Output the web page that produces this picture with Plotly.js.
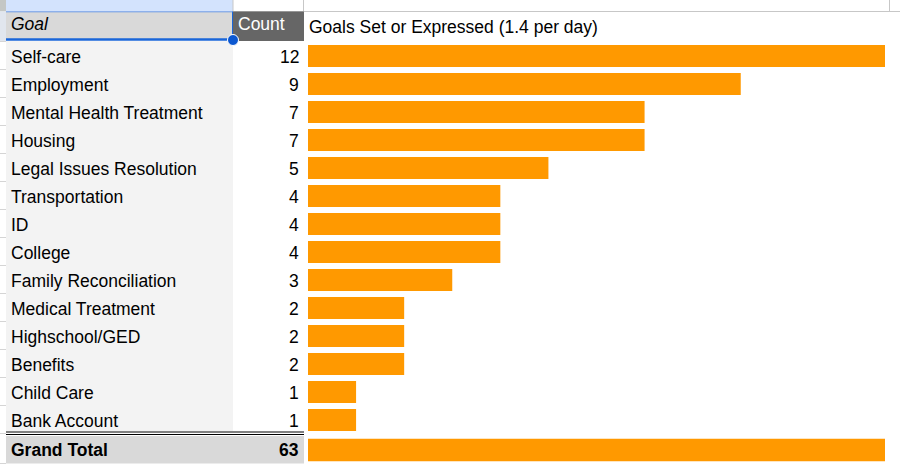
<!DOCTYPE html>
<html>
<head>
<meta charset="utf-8">
<script src="https://cdn.plot.ly/plotly-3.0.1.min.js"></script>
<style>html,body{margin:0;padding:0;background:#fff;}#chart{width:900px;height:467px;}</style>
</head>
<body>
<div id="chart"></div>
<script>
const goals = ["Self-care","Employment","Mental Health Treatment","Housing","Legal Issues Resolution","Transportation","ID","College","Family Reconciliation","Medical Treatment","Highschool/GED","Benefits","Child Care","Bank Account"];
const counts = [12,9,7,7,5,4,4,4,3,2,2,2,1,1];
const totalLabel = "Grand Total";
const totalValue = 63;
const headerGoal = "Goal";
const headerCount = "Count";
const chartTitle = "Goals Set or Expressed (1.4 per day)";

const W = 900, H = 467;
const px = v => v / W;
const py = v => 1 - v / H;
const FONT = "Liberation Sans, Arial, sans-serif";
const FS = 17.5;
const totalPos = counts.length + 0.07;

function rect(x0, y0, x1, y1, fill, line) {
  return {type:"rect", xref:"paper", yref:"paper", x0:px(x0), x1:px(x1), y0:py(y1), y1:py(y0),
          fillcolor:fill, line: line || {width:0}, layer:"below"};
}
function hline(x0, x1, y, color, w) {
  return {type:"line", xref:"paper", yref:"paper", x0:px(x0), x1:px(x1), y0:py(y), y1:py(y), line:{color:color, width:w}, layer:"below"};
}
function vline(x, y0, y1, color, w) {
  return {type:"line", xref:"paper", yref:"paper", x0:px(x), x1:px(x), y0:py(y0), y1:py(y1), line:{color:color, width:w}, layer:"below"};
}

const shapes = [
  rect(0, 0, 6, 11.5, "#c4c7c5"),
  rect(6, 0, 233, 11.5, "#d3e3fd"),
  rect(0, 11.5, 6, 41, "#e1e6ee"),
  hline(233, 900, 11.5, "#c7c7c7", 1),
  vline(233, 0, 11.5, "#c7c7c7", 1),
  vline(303.5, 0, 11.5, "#c7c7c7", 1),
  vline(889.5, 0, 11.5, "#c7c7c7", 1),
  rect(6, 11.5, 233, 40, "#d9d9d9"),
  rect(233, 11.5, 304, 41, "#666666"),
  rect(6, 41, 233, 431, "#f3f3f3"),
  rect(6, 436, 304, 463.5, "#d9d9d9"),
  hline(6, 304, 432, "#000000", 1),
  hline(6, 304, 434.5, "#000000", 1),
  vline(232.5, 11.5, 40, "#1a66d9", 1),
  hline(6, 233, 11.8, "#4a86e8", 0.8),
  hline(6, 233, 39.5, "#1a66d9", 2.5)
];
for (let i = 0; i <= counts.length; i++) {
  const yb = 42 + 28 * i;
  shapes.push(hline(0, 6, yb - 0.5, "#d5d5d5", 1));
}
shapes.push(hline(0, 6, 463.5, "#d5d5d5", 1));
shapes.push({type:"circle", xref:"paper", yref:"paper", x0:px(227.5), x1:px(238.5), y0:py(45.5), y1:py(34.5),
  fillcolor:"#0b57d0", line:{color:"#ffffff", width:1}, layer:"above"});

const annotations = [];
goals.forEach((g, i) => {
  annotations.push({xref:"paper", yref:"y", x:px(8.5), y:i + 0.03, text:g, showarrow:false, xanchor:"left", yanchor:"middle",
    font:{family:FONT, size:FS, color:"#000"}});
  annotations.push({xref:"paper", yref:"y", x:px(301), y:i + 0.03, text:String(counts[i]), showarrow:false, xanchor:"right", yanchor:"middle",
    font:{family:FONT, size:FS, color:"#000"}});
});
annotations.push({xref:"paper", yref:"y", x:px(8.5), y:totalPos, text:"<b>"+totalLabel+"</b>", showarrow:false, xanchor:"left", yanchor:"middle",
  font:{family:FONT, size:FS, color:"#000"}});
annotations.push({xref:"paper", yref:"y", x:px(301), y:totalPos, text:"<b>"+totalValue+"</b>", showarrow:false, xanchor:"right", yanchor:"middle",
  font:{family:FONT, size:FS, color:"#000"}});
annotations.push({xref:"paper", yref:"paper", x:px(9), y:py(24), text:"<i>"+headerGoal+"</i>", showarrow:false, xanchor:"left", yanchor:"middle",
  font:{family:FONT, size:FS, color:"#000"}});
annotations.push({xref:"paper", yref:"paper", x:px(236), y:py(24), text:headerCount, showarrow:false, xanchor:"left", yanchor:"middle",
  font:{family:FONT, size:FS, color:"#fff"}});
annotations.push({xref:"paper", yref:"paper", x:px(307), y:py(27), text:chartTitle, showarrow:false, xanchor:"left", yanchor:"middle",
  font:{family:FONT, size:FS, color:"#000"}});

const traces = [
  {type:"bar", orientation:"h", x:counts, y:goals.map((g,i)=>i), width:0.79,
   marker:{color:"#ff9900"}, xaxis:"x", yaxis:"y", hoverinfo:"skip"},
  {type:"bar", orientation:"h", x:[totalValue], y:[totalPos], width:0.8,
   marker:{color:"#ff9900"}, xaxis:"x2", yaxis:"y", hoverinfo:"skip"}
];

const layout = {
  width:W, height:H, margin:{l:0,r:0,t:0,b:0},
  paper_bgcolor:"#ffffff", plot_bgcolor:"rgba(0,0,0,0)",
  showlegend:false,
  xaxis:{domain:[px(308), px(885)], range:[0,12], visible:false, fixedrange:true},
  xaxis2:{domain:[px(308), px(885)], range:[0,totalValue], overlaying:"x", visible:false, fixedrange:true},
  yaxis:{domain:[py(464.8), py(42)], range:[14.6,-0.5], autorange:false, visible:false, fixedrange:true},
  shapes:shapes, annotations:annotations
};
Plotly.newPlot("chart", traces, layout, {staticPlot:true, displayModeBar:false});
</script>
</body>
</html>
